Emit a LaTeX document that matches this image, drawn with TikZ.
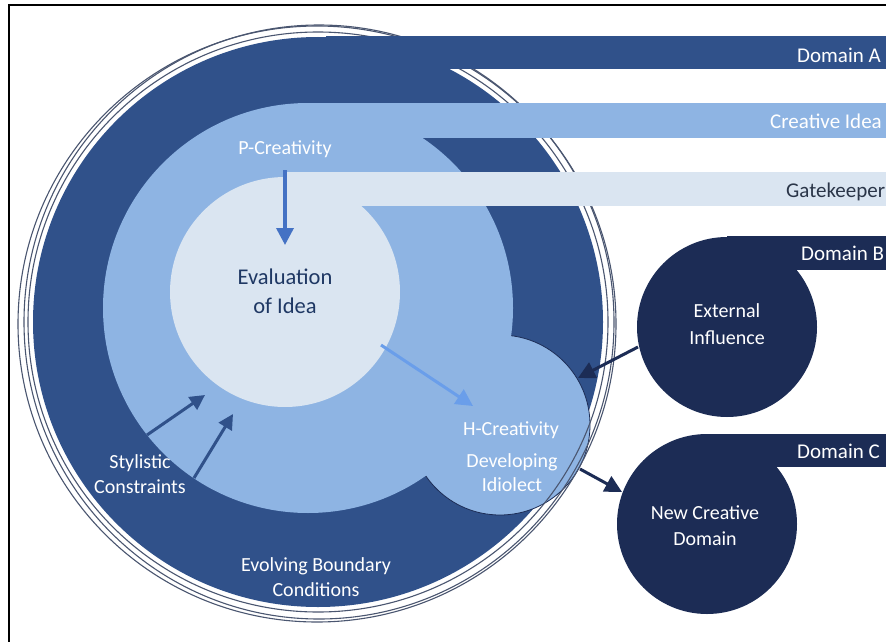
\documentclass[tikz,border=0pt]{standalone}
\usepackage{fontspec}
\setmainfont{Carlito}
\usetikzlibrary{arrows.meta}
\definecolor{ringblue}{HTML}{30518A}
\definecolor{midblue}{HTML}{8EB4E3}
\definecolor{paleblue}{HTML}{DAE5F1}
\definecolor{navy}{HTML}{1C2C55}
\definecolor{accentblue}{HTML}{4472C4}
\definecolor{skyarrow}{HTML}{6A9EEA}
\definecolor{ringline}{HTML}{4A5670}
\definecolor{evaltext}{HTML}{1F3864}
\definecolor{gatetext}{HTML}{2A3548}
\begin{document}
\begin{tikzpicture}[x=1pt,y=-1pt,
  lbl/.style={text=white,font=\fontsize{20}{25}\selectfont,align=center,inner sep=0pt},
  barlbl/.style={font=\fontsize{21}{25}\selectfont,anchor=base west,inner sep=0pt},
  arr/.style={line width=3pt,-{Triangle[length=17pt,width=17pt]}},
  ring/.style={draw=ringline,line width=1.1pt}
]
\useasboundingbox (0,0) rectangle (886,642);
\clip (0,0) rectangle (886,642);
\fill[white] (0,0) rectangle (886,642);

% big dark circle (Domain A)
\fill[ringblue] (318,322) circle[radius=285];
% H-Creativity bump
\filldraw[fill=midblue,draw=navy,line width=0.8pt] (500,425) circle[radius=90];
% light circle
\fill[midblue] (308,308) circle[radius=205];
% pale circle
\fill[paleblue] (285,292) circle[radius=115];
% outer rings
\draw[ring] (318,322) circle[radius=290];
\draw[ring] (319,322) ellipse[x radius=295,y radius=297];
\draw[ring] (317,324) ellipse[x radius=299,y radius=298];
% bars
\fill[ringblue] (326,36) rectangle (900,69);
\fill[midblue] (308,103) rectangle (900,138);
\fill[paleblue] (285,172) rectangle (900,206);
% Domain B
\fill[navy] (727,327) circle[radius=90];
\fill[navy] (727,236) rectangle (900,270);
% Domain C
\fill[navy] (707,524) circle[radius=90];
\fill[navy] (707,434) rectangle (900,467);

% frame
\draw[black,line width=2pt] (9,700) -- (9,5) -- (900,5);

% bar labels
\node[barlbl,text=white] (domA) at (797,62.5) {Domain A};
\node[barlbl,text=white] (creative) at (770,128) {Creative Idea};
\node[barlbl,text=gatetext] (gate) at (786,197) {Gatekeeper};
\node[barlbl,text=white] (domB) at (801,260) {Domain B};
\node[barlbl,text=white] (domC) at (797,458) {Domain C};

% inner labels
\node[lbl,anchor=base] (pcre) at (285,154) {P-Creativity};
\node[lbl,text=evaltext,font=\fontsize{22.5}{29}\selectfont] (eval) at (285,291) {Evaluation\\of Idea};
\node[lbl] (styl) at (140,474) {Stylistic\\Constraints};
\node[lbl] (evol) at (316,577) {Evolving Boundary\\Conditions};
\node[lbl,anchor=base] (hcre) at (511,435) {H-Creativity};
\node[lbl,font=\fontsize{20}{24}\selectfont] (idio) at (512,473) {Developing\\Idiolect};
\node[lbl,font=\fontsize{20}{27}\selectfont] (ext) at (727,324) {External\\Influence};
\node[lbl,font=\fontsize{20}{26}\selectfont] (newd) at (705,526) {New Creative\\Domain};

% arrow coordinates
\coordinate (p1) at (285,170);
\coordinate (p2) at (285,245);
\coordinate (h1) at (381,345);
\coordinate (h2) at (473,406);
\coordinate (s1) at (147,435);
\coordinate (s2) at (205,395);
\coordinate (s3) at (194,478);
\coordinate (s4) at (233,414);
\coordinate (e1) at (638,347);
\coordinate (e2) at (578,378);
\coordinate (n1) at (580,469);
\coordinate (n2) at (622,492);

\draw[arr,accentblue,line width=3.5pt] (p1) -- (p2);
\draw[arr,skyarrow] (h1) -- (h2);
\draw[arr,ringblue,-{Triangle[length=15pt,width=15pt]}] (s1) -- (s2);
\draw[arr,ringblue,-{Triangle[length=15pt,width=15pt]}] (s3) -- (s4);
\draw[arr,navy] (e1) -- (e2);
\draw[arr,navy] (n1) -- (n2);
\end{tikzpicture}
\end{document}
